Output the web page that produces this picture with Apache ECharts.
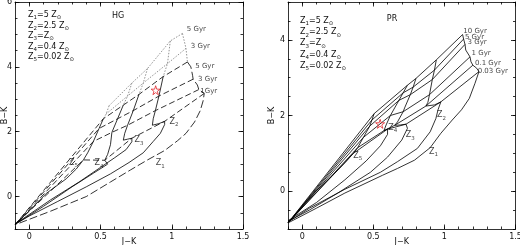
<!DOCTYPE html>
<html>
<head>
<meta charset="utf-8">
<script src="https://cdn.jsdelivr.net/npm/echarts@6/dist/echarts.min.js"></script>
<style>
html, body { margin: 0; padding: 0; background: #fff; }
#chart { width: 520px; height: 245px; }
</style>
</head>
<body>
<div id="chart"></div>
<script>
// tick labels
const jkMajor = [0, 0.5, 1, 1.5];
const hgBkMajor = [0, 2, 4, 6];
const prBkMajor = [0, 2, 4];

// metallicity legend
const metalSubs = ['1', '2', '3', '4', '5'];
const metalValues = ['=5 Z', '=2.5 Z', '=Z', '=0.4 Z', '=0.02 Z'];

// ---- PR panel ----
const prOrigin = [-0.1, -0.84];
const prAgeNames = ['10 Gyr', '5 Gyr', '3 Gyr', '1 Gyr', '0.1 Gyr', '0.03 Gyr'];
const prAgeLabelAt = [[1.133, 4.23], [1.144, 4.08], [1.163, 3.93], [1.191, 3.66], [1.215, 3.38], [1.234, 3.18]];
const prZ1Ages = [[1.128, 4.14], [1.135, 4.02], [1.145, 3.88], [1.18, 3.55], [1.2, 3.33], [1.243, 3.16]];
const prZ2Ages = [[0.943, 3.47], [0.93, 3.2], [0.915, 2.95], [0.895, 2.55], [0.87, 2.25], [0.975, 2.36]];
const prZ3Ages = [[0.8, 2.98], [0.78, 2.75], [0.76, 2.55], [0.71, 2.1], [0.65, 1.74], [0.73, 1.77]];
const prZ4Ages = [[0.74, 2.8], [0.71, 2.6], [0.68, 2.4], [0.62, 2.0], [0.575, 1.6], [0.6, 1.64]];
const prZ5Ages = [[0.506, 2.05], [0.49, 1.88], [0.475, 1.72], [0.43, 1.42], [0.39, 1.15], [0.36, 1.0]];
const prZ1Curve = [[1.128, 4.14], [1.135, 4.02], [1.145, 3.88], [1.15, 3.73], [1.18, 3.55], [1.187, 3.42], [1.2, 3.33], [1.227, 3.25], [1.243, 3.16], [1.215, 2.85], [1.175, 2.45], [1.12, 2.15], [1.055, 1.88], [0.975, 1.53], [0.9, 1.15], [0.79, 0.82], [0.67, 0.6], [0.565, 0.42], [0.3, -0.05], [0.1, -0.45], [-0.1, -0.84]];
const prZ2Curve = [[0.943, 3.47], [0.93, 3.2], [0.915, 2.95], [0.895, 2.55], [0.884, 2.35], [0.87, 2.25], [0.93, 2.28], [0.975, 2.36], [0.955, 2.15], [0.94, 1.92], [0.9, 1.57], [0.81, 1.13], [0.67, 0.78], [0.55, 0.5], [0.3, 0.05], [0.05, -0.45], [-0.1, -0.82]];
const prZ3Curve = [[0.8, 2.98], [0.78, 2.75], [0.76, 2.55], [0.72, 2.2], [0.71, 2.1], [0.67, 1.83], [0.65, 1.74], [0.69, 1.75], [0.73, 1.77], [0.74, 1.66], [0.7, 1.35], [0.6, 0.9], [0.48, 0.5], [0.25, -0.05], [0.05, -0.5], [-0.1, -0.8]];
const prZ4Curve = [[0.74, 2.8], [0.71, 2.6], [0.68, 2.4], [0.65, 2.2], [0.62, 2.0], [0.59, 1.75], [0.575, 1.6], [0.6, 1.64], [0.6, 1.5], [0.55, 1.2], [0.45, 0.8], [0.3, 0.3], [0.1, -0.3], [-0.1, -0.78]];
const prZ5Curve = [[0.506, 2.05], [0.49, 1.88], [0.475, 1.72], [0.43, 1.42], [0.39, 1.15], [0.36, 1.0], [0.3, 0.75], [0.21, 0.4], [0.1, 0.02], [0.0, -0.4], [-0.1, -0.84]];
const prZLabelAt = [[0.924, 1.04], [0.98, 2.01], [0.76, 1.48], [0.636, 1.68], [0.39, 0.93]];
const prStar = [0.548, 1.78];

// ---- HG panel ----
const hgOrigin = [-0.1, -0.87];
const hgOldAgeNames = ['5 Gyr', '3 Gyr'];
const hgOldAgeLabelAt = [[1.106, 5.15], [1.134, 4.63]];
const hgAgeNames = ['5 Gyr', '3 Gyr', '1Gyr'];
const hgAgeLabelAt = [[1.165, 4.03], [1.185, 3.62], [1.2, 3.26]];
const hgOldZ1Ages = [[1.075, 5.03], [1.1, 4.57]];
const hgOldZ2Ages = [[0.99, 4.8], [0.97, 4.1]];
const hgOldZ3Ages = [[0.83, 3.95], [0.8, 3.5]];
const hgOldZ4Ages = [[0.72, 3.5], [0.69, 3.1]];
const hgOldZ5Ages = [[0.56, 2.8], [0.54, 2.55]];
const hgZ1Ages = [[1.11, 4.15], [1.15, 3.62], [1.19, 3.3], [1.228, 3.18]];
const hgZ2Ages = [[0.94, 3.7], [0.91, 3.1], [0.885, 2.65], [0.95, 2.32]];
const hgZ3Ages = [[0.77, 3.15], [0.73, 2.65], [0.69, 2.2], [0.72, 1.8]];
const hgZ4Ages = [[0.66, 2.82], [0.62, 2.4], [0.58, 1.98], [0.53, 1.12]];
const hgZ5Ages = [[0.52, 2.4], [0.49, 2.1], [0.45, 1.7], [0.38, 1.13]];
const hgZ1Curve = [[1.11, 4.15], [1.134, 4.0], [1.146, 3.74], [1.15, 3.62], [1.18, 3.44], [1.19, 3.3], [1.228, 3.18], [1.22, 2.95], [1.2, 2.65], [1.16, 2.3], [1.1, 1.95], [1.04, 1.72], [0.95, 1.42], [0.83, 1.13], [0.71, 0.82], [0.57, 0.45], [0.4, 0.0], [0.15, -0.45], [-0.1, -0.87]];
const hgZ2Curve = [[0.94, 3.7], [0.91, 3.1], [0.885, 2.65], [0.87, 2.4], [0.864, 2.2], [0.91, 2.25], [0.95, 2.32], [0.95, 2.22], [0.92, 1.95], [0.87, 1.7], [0.8, 1.35], [0.7, 1.05], [0.57, 0.7], [0.4, 0.3], [0.2, -0.15], [0.0, -0.6], [-0.1, -0.85]];
const hgZ3Curve = [[0.77, 3.15], [0.73, 2.65], [0.69, 2.2], [0.67, 1.95], [0.66, 1.74], [0.69, 1.77], [0.72, 1.8], [0.72, 1.69], [0.68, 1.45], [0.6, 1.2], [0.5, 0.9], [0.35, 0.45], [0.15, -0.1], [-0.1, -0.85]];
const hgZ4Curve = [[0.66, 2.82], [0.62, 2.4], [0.58, 1.98], [0.57, 1.6], [0.55, 1.3], [0.53, 1.12], [0.55, 1.0], [0.45, 0.72], [0.3, 0.3], [0.1, -0.3], [-0.1, -0.86]];
const hgZ5Curve = [[0.52, 2.4], [0.49, 2.1], [0.45, 1.7], [0.41, 1.35], [0.38, 1.13], [0.33, 0.85], [0.26, 0.55], [0.12, 0.1], [0.03, -0.31], [-0.1, -0.87]];
const hgZLabelAt = [[0.92, 1.03], [1.016, 2.31], [0.77, 1.74], [0.49, 1.03], [0.31, 1.05]];
const hgStar = [0.887, 3.28];

const FONT = 'DejaVu Sans';
const INK = '#111';
const STAR = 'path://M50,0 L61,35 L98,35 L68,57 L79,91 L50,70 L21,91 L32,57 L2,35 L39,35 Z';

const subRich = {
    n: { fontSize: 8, fontFamily: FONT, color: INK, lineHeight: 12 },
    s: { fontSize: 5.5, fontFamily: FONT, color: INK, verticalAlign: 'bottom' }
};

function steps(a, b, d) {
    const out = [];
    for (let v = a; v <= b + 1e-9; v += d) out.push(+v.toFixed(2));
    return out;
}

function zText(sub, rest) {
    return '{n|Z}{s|' + sub + '}' + (rest ? '{n|' + rest + '}{s|⊙}' : '');
}

function axesFor(dim, g, min, max, major, name, nameGap) {
    const line = { color: '#000', width: 0.8 };
    const minor = steps(min, max, dim === 'x' ? 0.1 : 0.5);
    const pos = dim === 'x' ? ['bottom', 'top'] : ['left', 'right'];
    const base = { type: 'value', gridIndex: g, min: min, max: max, splitLine: { show: false } };
    const majTick = { show: true, inside: true, length: 4.5, customValues: major, lineStyle: line };
    const minTick = { show: true, inside: true, length: 2.5, customValues: minor, lineStyle: line };
    return [
        Object.assign({}, base, {
            position: pos[0],
            axisLine: { show: true, onZero: false, lineStyle: line },
            axisTick: majTick,
            axisLabel: { show: true, customValues: major, fontSize: 8, fontFamily: FONT, color: INK, margin: dim === 'x' ? 4 : 3 },
            name: name, nameLocation: 'middle', nameGap: nameGap, nameMoveOverlap: false,
            nameTextStyle: { fontSize: 8, fontFamily: FONT, color: INK }
        }),
        Object.assign({}, base, { position: pos[0], axisLine: { show: false, onZero: false }, axisTick: minTick, axisLabel: { show: false } }),
        Object.assign({}, base, { position: pos[1], axisLine: { show: true, onZero: false, lineStyle: line }, axisTick: majTick, axisLabel: { show: false } }),
        Object.assign({}, base, { position: pos[1], axisLine: { show: false, onZero: false }, axisTick: minTick, axisLabel: { show: false } })
    ];
}

function lineSeries(g, pts, style) {
    return {
        type: 'line', xAxisIndex: g * 4, yAxisIndex: g * 4, data: pts,
        symbol: 'none', showSymbol: false, silent: true, animation: false,
        lineStyle: Object.assign({ color: '#000', width: 0.8 }, style)
    };
}

function labelSeries(g, pts, texts, pos, size) {
    return {
        type: 'scatter', xAxisIndex: g * 4, yAxisIndex: g * 4, symbolSize: 0,
        silent: true, animation: false,
        data: pts.map((p, i) => ({ value: p, text: texts[i] })),
        label: {
            show: true, position: pos, distance: 0, formatter: p => p.data.text,
            fontSize: size, fontFamily: FONT, color: INK, rich: subRich
        }
    };
}

function starSeries(g, pt) {
    return {
        type: 'scatter', xAxisIndex: g * 4, yAxisIndex: g * 4, data: [pt],
        symbol: STAR, symbolSize: 9, silent: true, animation: false, z: 5,
        itemStyle: { color: 'rgba(0,0,0,0)', borderColor: '#e0262a', borderWidth: 1 }
    };
}

function isochrones(zs, origin) {
    const out = [];
    for (let k = 0; k < zs[0].length; k++) {
        out.push(zs.map(z => z[k]).concat(origin ? [origin] : []));
    }
    return out;
}

function legend(x, y, gap) {
    return metalSubs.map((s, i) => ({
        type: 'text', x: x, y: y + i * gap, silent: true,
        style: { text: zText(s, metalValues[i]), verticalAlign: 'middle', rich: subRich, fill: INK }
    }));
}

const series = [];

// HG panel (grid 0)
const hgZs = [hgZ1Ages, hgZ2Ages, hgZ3Ages, hgZ4Ages, hgZ5Ages];
const hgOldZs = [hgOldZ1Ages, hgOldZ2Ages, hgOldZ3Ages, hgOldZ4Ages, hgOldZ5Ages];
isochrones(hgOldZs, null).forEach(l => series.push(lineSeries(0, l, { color: '#777', type: [1.5, 1.5] })));
hgOldZs.forEach((z, i) => series.push(lineSeries(0, z.concat([hgZs[i][0]]), { color: '#777', type: [1.5, 1.5] })));
isochrones(hgZs, hgOrigin).forEach(l => series.push(lineSeries(0, l, { type: [6, 3] })));
series.push(lineSeries(0, hgZ1Curve, { type: [8, 3] }));
[hgZ2Curve, hgZ3Curve, hgZ4Curve, hgZ5Curve].forEach(c => series.push(lineSeries(0, c, {})));
series.push(labelSeries(0, hgOldAgeLabelAt, hgOldAgeNames, 'right', 7));
series.push(labelSeries(0, hgAgeLabelAt, hgAgeNames, 'right', 7));
series.push(labelSeries(0, hgZLabelAt, metalSubs.map(s => zText(s)), 'inside', 8));
series.push(starSeries(0, hgStar));

// PR panel (grid 1)
const prZs = [prZ1Ages, prZ2Ages, prZ3Ages, prZ4Ages, prZ5Ages];
isochrones(prZs, prOrigin).forEach(l => series.push(lineSeries(1, l, {})));
[prZ1Curve, prZ2Curve, prZ3Curve, prZ4Curve, prZ5Curve].forEach(c => series.push(lineSeries(1, c, {})));
series.push(labelSeries(1, prAgeLabelAt, prAgeNames, 'right', 7));
series.push(labelSeries(1, prZLabelAt, metalSubs.map(s => zText(s)), 'inside', 8));
series.push(starSeries(1, prStar));

const chart = echarts.init(document.getElementById('chart'), null, { renderer: 'canvas' });
chart.setOption({
    backgroundColor: '#fff',
    animation: false,
    grid: [
        { left: 15, right: 277, top: 2, bottom: 16, outerBoundsMode: 'none' },
        { left: 288, right: 4.5, top: 2, bottom: 16, outerBoundsMode: 'none' }
    ],
    xAxis: axesFor('x', 0, -0.1, 1.5, jkMajor, 'J−K', 9)
        .concat(axesFor('x', 1, -0.1, 1.5, jkMajor, 'J−K', 9)),
    yAxis: axesFor('y', 0, -1, 6, hgBkMajor, 'B−K', 6)
        .concat(axesFor('y', 1, -1, 5, prBkMajor, 'B−K', 12)),
    graphic: legend(28, 15, 10.5).concat(legend(300, 21, 11.2)).concat([
        { type: 'text', x: 118, y: 16, silent: true, style: { text: 'HG', align: 'center', verticalAlign: 'middle', fontSize: 8, fontFamily: FONT, fill: INK } },
        { type: 'text', x: 392, y: 19, silent: true, style: { text: 'PR', align: 'center', verticalAlign: 'middle', fontSize: 8, fontFamily: FONT, fill: INK } }
    ]),
    series: series
});
</script>
</body>
</html>
